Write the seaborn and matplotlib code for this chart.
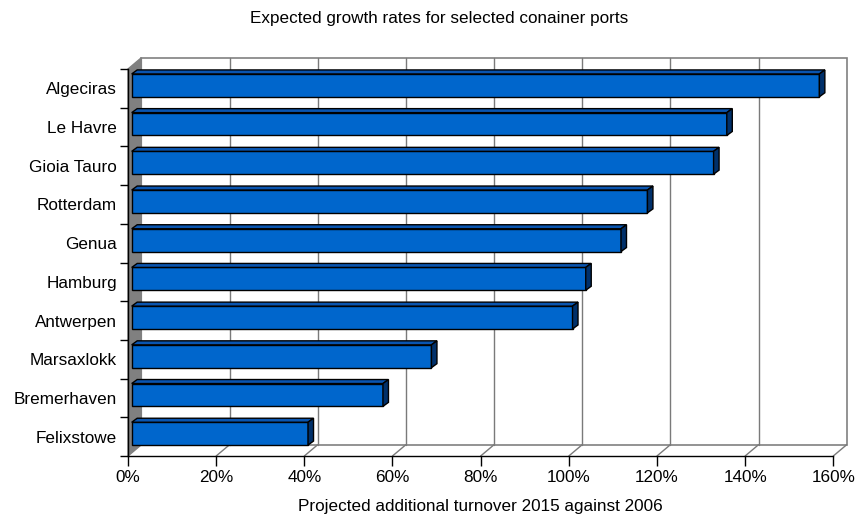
import numpy as np
import pandas as pd
import matplotlib
matplotlib.use("Agg")
import matplotlib.pyplot as plt
import seaborn as sns
from matplotlib.patches import Polygon, Rectangle
from matplotlib.lines import Line2D
from matplotlib.transforms import offset_copy, IdentityTransform

# ---- data ----
ports = ["Algeciras", "Le Havre", "Gioia Tauro", "Rotterdam", "Genua",
         "Hamburg", "Antwerpen", "Marsaxlokk", "Bremerhaven", "Felixstowe"]
growth = [156, 135, 132, 117, 111, 103, 100, 68, 57, 40]
xticks = [0, 20, 40, 60, 80, 100, 120, 140, 160]
xtick_labels = [f"{t}%" for t in xticks]
title = "Expected growth rates for selected conainer ports"
xlabel = "Projected additional turnover 2015 against 2006"

sns.set_theme(style="white")
plt.rcParams["font.family"] = ["Liberation Sans", "DejaVu Sans"]

W, H = 856, 517
fig = plt.figure(figsize=(W / 100, H / 100), dpi=100)
fig.patch.set_facecolor("white")
ax = fig.add_axes([128 / W, (H - 456) / H, (833.3 - 128) / W, (456 - 69) / H])
ax.patch.set_visible(False)

df = pd.DataFrame({"port": ports, "growth": growth})
sns.barplot(data=df, y="port", x="growth", orient="h", color="#0066CC",
            saturation=1, edgecolor="black", linewidth=1, width=0.59, ax=ax)
bars = list(ax.patches)
ax.set_xlim(0, 160)
ax.set_ylim(9.5, -0.5)

# depth of the 3D box (display pixels, y up)
DX, DY = 13.4, 11.3
# bar front-plane offset and bar depth
BOX, BOY = 3.7, 3.0
BDX, BDY = 5.5, 4.0
wall_gray = "#808080"
grid_gray = "#7a7a7a"

def D(x, y):
    return np.array(ax.transData.transform((x, y)))

ident = IdentityTransform()
depth = np.array([DX, DY])

# back wall
bl = D(0, 9.5) + depth
tr = D(160, -0.5) + depth
ax.add_artist(Rectangle(bl, tr[0] - bl[0], tr[1] - bl[1], transform=ident,
                        facecolor="white", edgecolor=wall_gray, linewidth=1.2,
                        clip_on=False, zorder=0.1))
# gridlines on back wall
for t in xticks[1:-1]:
    p0 = D(t, 9.5) + depth
    p1 = D(t, -0.5) + depth
    ax.add_artist(Line2D([p0[0], p1[0]], [p0[1], p1[1]], transform=ident,
                         color=grid_gray, linewidth=1, clip_on=False, zorder=0.2))
# floor diagonals
for t in xticks[1:]:
    p0 = D(t, 9.5)
    p1 = p0 + depth
    ax.add_artist(Line2D([p0[0], p1[0]], [p0[1], p1[1]], transform=ident,
                         color=grid_gray, linewidth=1, clip_on=False, zorder=0.3))
# left wall
lw = [D(0, 9.5), D(0, -0.5), D(0, -0.5) + depth, D(0, 9.5) + depth]
ax.add_artist(Polygon(lw, closed=True, transform=ident, facecolor=wall_gray,
                      edgecolor=wall_gray, linewidth=1, clip_on=False, zorder=0.4))

# 3D bars
bar_tr = offset_copy(ax.transData, fig=fig, x=BOX, y=BOY, units="dots")
for p in bars:
    p.set_transform(bar_tr)
    p.set_zorder(3)
    p.set_clip_on(False)
    x0d, y0d = p.get_x(), p.get_y()
    c1 = bar_tr.transform((x0d, y0d))
    c2 = bar_tr.transform((x0d + p.get_width(), y0d + p.get_height()))
    x0, x1 = min(c1[0], c2[0]), max(c1[0], c2[0])
    yb, yt = min(c1[1], c2[1]), max(c1[1], c2[1])
    top = [(x0, yt), (x1, yt), (x1 + BDX, yt + BDY), (x0 + BDX, yt + BDY)]
    side = [(x1, yb), (x1, yt), (x1 + BDX, yt + BDY), (x1 + BDX, yb + BDY)]
    ax.add_artist(Polygon(top, closed=True, transform=ident, facecolor="#0A55B0",
                          edgecolor="black", linewidth=1, clip_on=False, zorder=3.1))
    ax.add_artist(Polygon(side, closed=True, transform=ident, facecolor="#00306A",
                          edgecolor="black", linewidth=1, clip_on=False, zorder=3.1))

# axes, ticks
for s in ["top", "right"]:
    ax.spines[s].set_visible(False)
for s in ["left", "bottom"]:
    ax.spines[s].set_color("black")
    ax.spines[s].set_linewidth(1)
    ax.spines[s].set_zorder(2.5)
ax.grid(False)
ax.set_xticks(xticks, xtick_labels)
ax.set_yticks(range(len(ports)), ports)
ax.set_yticks(np.arange(-0.5, len(ports), 1), minor=True)
ax.tick_params(axis="x", which="major", bottom=True, length=7, width=1,
               color="black", direction="out", pad=3, labelsize=12.3, labelcolor="black")
ax.tick_params(axis="y", which="major", left=True, length=0, pad=8,
               labelsize=12.3, labelcolor="black")
ax.tick_params(axis="y", which="minor", left=True, length=6, width=1,
               color="black", direction="out")
ax.set_xlabel("")
ax.set_ylabel("")

fig.text(439 / W, 1 - 18 / H, title, ha="center", va="center", fontsize=12.3, color="black")
fig.text(480.5 / W, 1 - 507 / H, xlabel, ha="center", va="center", fontsize=12.3, color="black")

fig.savefig("out.png", dpi=100, facecolor="white")
